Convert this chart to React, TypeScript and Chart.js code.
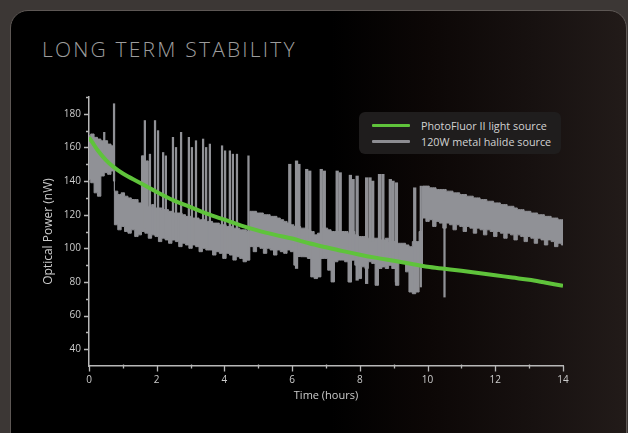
import React, { useEffect, useRef } from "react";
import { Chart, registerables } from "chart.js";

Chart.register(...registerables);

// ---------- data ----------
const chartTitle = "LONG TERM STABILITY";
const xAxisTitle = "Time (hours)";
const yAxisTitle = "Optical Power (nW)";
const seriesNames = ["PhotoFluor II light source", "120W metal halide source"];

const xMin = 0;
const xMax = 14;
const yMin = 30;
const yMax = 190;
const yLabelValues = [40, 60, 80, 100, 120, 140, 160, 180];
const xLabelValues = [0, 2, 4, 6, 8, 10, 12, 14];

// PhotoFluor II (green)
const greenTimes = [0, 0.1, 0.25, 0.5, 0.75, 1, 1.5, 2, 2.5, 3, 3.5, 4, 4.5, 5, 5.5, 6, 6.5, 7, 7.5, 8, 8.5, 9, 9.5, 10, 10.5, 11, 11.5, 12, 12.5, 13, 13.5, 14];
const greenValues = [166, 163, 158.5, 152.5, 148, 144.5, 139, 133.5, 128.5, 124.5, 120.5, 117, 113.5, 110.5, 108, 105.8, 103, 100.6, 98.3, 96.2, 94.3, 92.6, 90.8, 89, 87.8, 86.6, 85.3, 84, 82.6, 81.3, 79.5, 77.7];

// 120W metal halide (gray) – band sampled every 0.1 h from t = 0
const grayStep = 0.1;
const grayHigh = [
  167, 168, 166, 165, 164, 164, 162, 161,
  134, 132, 133, 131, 130, 129, 129, 127,
  155, 152, 125, 126, 124, 124, 123, 123, 122, 121,
  121, 121, 120, 119, 119, 118, 118, 117, 117, 116,
  116, 115, 115, 114, 114, 113, 113, 112, 112, 111,
  111, 110, 122, 122, 121, 121, 120, 120, 119, 119,
  118, 117, 116, 115, 114, 113, 113, 112, 112, 111,
  110, 108, 109, 112, 112, 111, 110, 110, 110, 110,
  110, 109, 110, 108, 107, 107, 106, 106, 106, 106,
  105, 105, 106, 104, 104, 103, 103, 103, 102, 101,
  104, 104, 110, 137, 137, 136, 136, 135, 135, 135,
  134, 134, 133, 133, 132, 132, 131, 131, 130, 130,
  129, 129, 128, 128, 127, 127, 126, 126, 125, 125,
  124, 123, 123, 122, 122, 121, 121, 120, 120, 119,
  119, 118, 118, 117, 117,
];
const grayLow = [
  141, 139, 133, 131, 143, 145, 144, 146,
  114, 111, 113, 110, 109, 111, 107, 108,
  110, 109, 106, 108, 107, 104, 106, 105, 103, 105,
  104, 101, 103, 102, 100, 102, 101, 98, 100, 99,
  99, 96, 98, 97, 94, 97, 96, 93, 95, 94,
  92, 93, 101, 98, 101, 100, 97, 100, 99, 96,
  99, 98, 97, 99, 98, 90, 96, 95, 95, 94,
  83, 82, 83, 94, 94, 87, 80, 92, 93, 93,
  92, 80, 93, 90, 82, 89, 88, 92, 91, 78,
  88, 89, 88, 90, 88, 78, 92, 92, 86, 74,
  73, 74, 90, 118, 116, 117, 113, 116, 115, 112,
  115, 114, 111, 114, 113, 110, 113, 112, 109, 112,
  111, 108, 111, 110, 107, 110, 109, 106, 109, 108,
  105, 108, 107, 104, 107, 106, 103, 106, 105, 102,
  105, 104, 101, 103, 102,
];

// thin spikes of the gray series
const spikeTimes = [0.45, 0.74, 1.65, 1.8, 1.95, 2.04, 2.19, 2.27, 2.48, 2.57, 2.72, 2.95, 3.04, 3.16, 3.37, 3.46, 3.57, 3.93, 4.02, 4.16, 4.25, 4.37, 4.71, 9.8, 10.5];
const spikeLows = [150, 140, 112, 110, 108, 108, 107, 106, 105, 105, 104, 103, 103, 102, 101, 101, 100, 98, 98, 97, 97, 96, 93, 77, 71];
const spikeHighs = [169, 186, 176, 156, 176, 170, 157, 155, 166, 160, 169, 166, 160, 164, 165, 160, 162, 161, 158, 158, 156, 156, 155, 137, 128];

// wider bursts of the gray series (6 h – 10 h)
const burstTimes = [5.93, 6.13, 6.2, 6.43, 6.52, 6.86, 6.95, 7.33, 7.42, 7.72, 7.8, 7.92, 8.2, 8.3, 8.38, 8.58, 8.68, 8.9, 8.98, 9.08, 9.62];
const burstLows = [100, 88, 95, 95, 94, 94, 95, 108, 108, 80, 93, 81, 79, 104, 104, 90, 89, 90, 88, 80, 75];
const burstHighs = [150, 152, 150, 147, 146, 147, 146, 146, 145, 143.5, 141, 143, 142, 142, 140, 144, 144, 141, 140, 139, 136];

// ---------- styles ----------
const GREEN = "#5fc33b";
const GRAY = "#909196";
const AXIS = "#b8b8b8";
const TEXT = "#cccccc";
const FONT = "'Open Sans', 'DejaVu Sans', sans-serif";

const minorTicksPlugin = {
  id: "minorTicks",
  afterDraw(chart: any) {
    const ctx = chart.ctx;
    const xs = chart.scales.x;
    const ys = chart.scales.y;
    const area = chart.chartArea;
    ctx.save();
    ctx.strokeStyle = AXIS;
    ctx.lineWidth = 1.3;
    ctx.beginPath();
    for (let v = yMin + 10; v <= yMax; v += 10) {
      const y = Math.round(ys.getPixelForValue(v)) + 0.5;
      const major = yLabelValues.includes(v);
      ctx.moveTo(area.left, y);
      ctx.lineTo(area.left - (major ? 5 : 3), y);
    }
    for (let v = xMin; v <= xMax; v += 1) {
      const x = Math.round(xs.getPixelForValue(v)) + 0.5;
      const major = xLabelValues.includes(v);
      ctx.moveTo(x, area.bottom - (major ? 0 : 1.5));
      ctx.lineTo(x, area.bottom + (major ? 5.5 : 2.5));
    }
    ctx.stroke();
    ctx.restore();
  },
};

export default function App() {
  const canvasRef = useRef<HTMLCanvasElement | null>(null);

  useEffect(() => {
    if (!canvasRef.current) return;
    const grayLowPts = grayLow.map((v, i) => ({ x: +(i * grayStep).toFixed(2), y: v }));
    const grayHighPts = grayHigh.map((v, i) => ({ x: +(i * grayStep).toFixed(2), y: v }));
    const greenPts = greenTimes.map((t, i) => ({ x: t, y: greenValues[i] }));
    const spikePts = spikeTimes.map((t, i) => ({ x: t, y: [spikeLows[i], spikeHighs[i]] }));
    const burstPts = burstTimes.map((t, i) => ({ x: t, y: [burstLows[i], burstHighs[i]] }));

    const chart = new Chart(canvasRef.current, {
      type: "line",
      data: {
        datasets: [
          {
            label: seriesNames[0],
            data: greenPts,
            borderColor: GREEN,
            borderWidth: 4,
            pointRadius: 0,
            cubicInterpolationMode: "monotone",
            fill: false,
            order: 0,
          } as any,
          {
            label: seriesNames[1] + " low",
            data: grayLowPts,
            borderColor: GRAY,
            borderWidth: 1,
            pointRadius: 0,
            stepped: "middle",
            fill: false,
            order: 3,
          } as any,
          {
            label: seriesNames[1],
            data: grayHighPts,
            borderColor: GRAY,
            backgroundColor: GRAY,
            borderWidth: 1,
            pointRadius: 0,
            stepped: "middle",
            fill: "-1",
            order: 3,
          } as any,
          {
            type: "bar",
            label: seriesNames[1] + " spikes",
            data: spikePts,
            backgroundColor: GRAY,
            borderWidth: 0,
            barThickness: 1.6,
            grouped: false,
            order: 2,
          } as any,
          {
            type: "bar",
            label: seriesNames[1] + " bursts",
            data: burstPts,
            backgroundColor: GRAY,
            borderWidth: 0,
            barThickness: 2.6,
            grouped: false,
            order: 2,
          } as any,
        ],
      },
      options: {
        animation: false,
        responsive: false,
        maintainAspectRatio: false,
        events: [],
        layout: { padding: { left: 38, top: 97, right: 65, bottom: 27 } },
        plugins: {
          legend: { display: false },
          tooltip: { enabled: false },
          title: { display: false },
        },
        scales: {
          x: {
            type: "linear",
            min: xMin,
            max: xMax,
            offset: false,
            afterFit: (s: any) => {
              s.height = 40;
            },
            grid: {
              display: true,
              drawOnChartArea: false,
              drawTicks: true,
              tickLength: 5,
              tickColor: "rgba(0,0,0,0)",
              offset: false,
            },
            border: { display: true, color: AXIS, width: 1.5 },
            ticks: {
              stepSize: 1,
              autoSkip: false,
              maxRotation: 0,
              padding: 3,
              color: TEXT,
              font: { family: FONT, size: 10 },
              callback: (v: any) => (xLabelValues.includes(Number(v)) ? String(v) : ""),
            },
            title: {
              display: true,
              text: xAxisTitle,
              color: TEXT,
              font: { family: FONT, size: 11 },
              padding: { top: 0, bottom: 4 },
            },
          },
          y: {
            type: "linear",
            min: yMin,
            max: yMax,
            afterFit: (s: any) => {
              s.width = 51;
            },
            grid: {
              display: true,
              drawOnChartArea: false,
              drawTicks: true,
              tickLength: 5,
              tickColor: "rgba(0,0,0,0)",
            },
            border: { display: true, color: AXIS, width: 1.5 },
            ticks: {
              stepSize: 10,
              autoSkip: false,
              padding: 3,
              color: TEXT,
              font: { family: FONT, size: 10 },
              callback: (v: any) => (yLabelValues.includes(Number(v)) ? String(v) : ""),
            },
            title: {
              display: true,
              text: yAxisTitle,
              color: TEXT,
              font: { family: FONT, size: 12 },
              padding: { top: 3, bottom: 0 },
            },
          },
        },
      } as any,
      plugins: [minorTicksPlugin],
    });
    return () => chart.destroy();
  }, []);

  const legendRow = (color: string, text: string) => (
    <div style={{ display: "flex", alignItems: "center", height: 16 }}>
      <div style={{ width: 38, height: 3, background: color, marginLeft: 13, marginRight: 11, borderRadius: 1 }} />
      <span style={{ color: "#d2d2d2", fontFamily: FONT, fontSize: 10.8, whiteSpace: "nowrap" }}>{text}</span>
    </div>
  );

  return (
    <div
      style={{
        position: "fixed",
        left: 0,
        top: 0,
        width: 628,
        height: 433,
        overflow: "hidden",
        background: "#3c3735",
      }}
    >
      <div
        style={{
          position: "absolute",
          left: 10,
          top: 10,
          width: 615,
          height: 460,
          borderRadius: 18,
          border: "1px solid #5d5754",
          background: "linear-gradient(to right, #000000 0%, #000000 52%, #0c0706 68%, #171110 85%, #221b19 100%)",
        }}
      />
      <div
        style={{
          position: "absolute",
          left: 42,
          top: 35,
          color: "#9d9d9d",
          fontFamily: FONT,
          fontWeight: 300,
          fontSize: 21,
          letterSpacing: 2.2,
          whiteSpace: "nowrap",
        }}
      >
        {chartTitle}
      </div>
      <canvas ref={canvasRef} width={628} height={433} style={{ position: "absolute", left: 0, top: 0, width: 628, height: 433 }} />
      <div
        style={{
          position: "absolute",
          left: 359,
          top: 112,
          width: 202,
          height: 42,
          borderRadius: 6,
          background: "#1f1d1d",
          boxSizing: "border-box",
          paddingTop: 5,
        }}
      >
        {legendRow(GREEN, seriesNames[0])}
        {legendRow("#8d8d92", seriesNames[1])}
      </div>
    </div>
  );
}
